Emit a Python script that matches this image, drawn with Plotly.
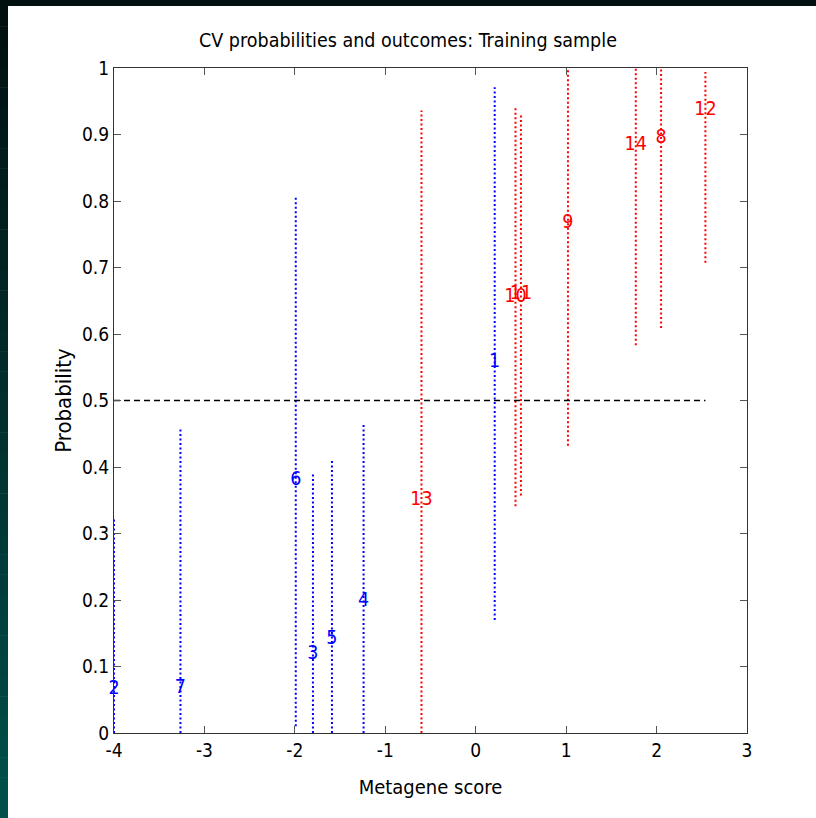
import plotly.graph_objects as go

# ---- data ----
ids = ["1", "2", "3", "4", "5", "6", "7", "8", "9", "10", "11", "12", "13", "14"]
scores = [0.21, -4.0, -1.80, -1.24, -1.59, -1.99, -3.265, 2.05, 1.02, 0.44, 0.50, 2.54, -0.60, 1.77]
probs = [0.558, 0.066, 0.119, 0.199, 0.141, 0.381, 0.068, 0.895, 0.767, 0.655, 0.660, 0.936, 0.350, 0.884]
lows = [0.170, 0.0, 0.0, 0.0, 0.0, 0.01, 0.0, 0.609, 0.432, 0.341, 0.357, 0.707, 0.0, 0.583]
highs = [0.971, 0.321, 0.391, 0.466, 0.412, 0.805, 0.459, 1.0, 1.0, 0.941, 0.931, 0.994, 0.936, 1.0]
outcomes = [0, 0, 0, 0, 0, 0, 0, 1, 1, 1, 1, 1, 1, 1]
threshold = 0.5
x_ticks = [-4, -3, -2, -1, 0, 1, 2, 3]
x_tick_labels = ["-4", "-3", "-2", "-1", "0", "1", "2", "3"]
y_ticks = [0, 0.1, 0.2, 0.3, 0.4, 0.5, 0.6, 0.7, 0.8, 0.9, 1]
y_tick_labels = ["0", "0.1", "0.2", "0.3", "0.4", "0.5", "0.6", "0.7", "0.8", "0.9", "1"]

FONT = "DejaVu Sans Condensed, Liberation Sans Narrow, sans-serif"
colors = {0: "#0000ff", 1: "#ff0000"}

fig = go.Figure()

# interval lines per outcome
for oc in (0, 1):
    xs, ys = [], []
    for s, lo, hi, o in zip(scores, lows, highs, outcomes):
        if o == oc:
            xs += [s, s, None]
            ys += [lo, hi, None]
    fig.add_trace(go.Scatter(x=xs, y=ys, mode="lines",
                             line=dict(color=colors[oc], width=2, dash="2px,2.5px"),
                             hoverinfo="skip", showlegend=False, cliponaxis=False))

# threshold line
fig.add_trace(go.Scatter(x=[min(scores), max(scores)], y=[threshold, threshold], mode="lines",
                         line=dict(color="black", width=1.5, dash="6px,4px"),
                         hoverinfo="skip", showlegend=False))

# labels
for oc in (0, 1):
    sel = [i for i, o in enumerate(outcomes) if o == oc]
    fig.add_trace(go.Scatter(x=[scores[i] for i in sel], y=[probs[i] for i in sel],
                             text=[ids[i] for i in sel], mode="text",
                             textposition="middle center", cliponaxis=False,
                             textfont=dict(color=colors[oc], size=19.5, family=FONT),
                             hoverinfo="skip", showlegend=False))

# ---- frame decoration (dark border top/left) ----
L, R, T, B = 114, 69, 68, 85
W, H = 816, 818
pw, ph = W - L - R, H - T - B

def px(x):
    return (x - L) / pw

def py(y):
    return 1 - (y - T) / ph

shapes = []
shapes.append(dict(type="rect", xref="paper", yref="paper", x0=px(0), x1=px(W), y0=py(0), y1=py(6),
                   fillcolor="#000f0f", line=dict(width=0), layer="below"))
n = 40
top_c = (0, 15, 15)
bot_c = (0, 80, 76)
for k in range(n):
    y0p = 6 + (H - 6) * k / n
    y1p = 6 + (H - 6) * (k + 1) / n
    t = (k + 0.5) / n
    c = tuple(int(round(a + (b - a) * t)) for a, b in zip(top_c, bot_c))
    shapes.append(dict(type="rect", xref="paper", yref="paper", x0=px(0), x1=px(8),
                       y0=py(y0p), y1=py(y1p + 0.5),
                       fillcolor="rgb(%d,%d,%d)" % c, line=dict(width=0), layer="below"))

fig.update_layout(
    width=W, height=H,
    margin=dict(l=L, r=R, t=T, b=B),
    paper_bgcolor="white", plot_bgcolor="white",
    shapes=shapes,
    title=dict(text="CV probabilities and outcomes: Training sample", x=px(430.5), xanchor="center",
               y=1 - 40 / H, yanchor="middle", font=dict(family=FONT, size=19.5, color="black")),
    xaxis=dict(range=[-4, 3], tickvals=x_ticks, ticktext=x_tick_labels, ticks="inside", ticklen=7,
               tickcolor="#555", showline=True, linecolor="#333", linewidth=1, mirror="ticks",
               showgrid=False, zeroline=False, tickfont=dict(family=FONT, size=19, color="black"),
               title=dict(text="Metagene score", font=dict(family=FONT, size=20, color="black"), standoff=20)),
    yaxis=dict(range=[0, 1], tickvals=y_ticks, ticktext=y_tick_labels, ticks="inside", ticklen=7,
               tickcolor="#555", showline=True, linecolor="#333", linewidth=1, mirror="ticks",
               showgrid=False, zeroline=False, tickfont=dict(family=FONT, size=19, color="black"),
               title=dict(text="Probability", font=dict(family=FONT, size=22, color="black"), standoff=4)),
)

fig.write_html("out.html", config={"displayModeBar": False},
               post_script="document.body.style.margin='0';document.body.style.overflow='hidden';")
